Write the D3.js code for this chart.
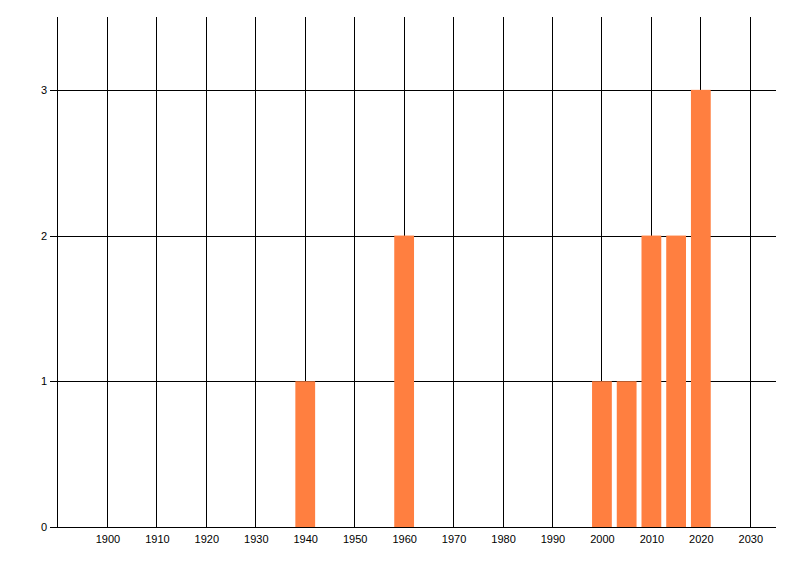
<!doctype html>
<html lang="en">
<head>
<meta charset="utf-8">
<title>Bar chart</title>
<script src="https://d3js.org/d3.v7.min.js"></script>
<style>
    body { margin: 0; background: #fff; }
    .tick text { font-family: "Liberation Sans", Arial, sans-serif; font-size: 11px; fill: #000; }
    .grid line { stroke: #000; stroke-width: 1px; shape-rendering: crispEdges; }
    .bar { fill: #ff7f40; }
</style>
</head>
<body>
<svg width="800" height="576"></svg>
<script>
    // data
    var years  = [1940, 1960, 2000, 2005, 2010, 2015, 2020];
    var counts = [1, 2, 1, 1, 2, 2, 3];
    var xTicks = [1900, 1910, 1920, 1930, 1940, 1950, 1960, 1970, 1980, 1990, 2000, 2010, 2020, 2030];
    var yTicks = [0, 1, 2, 3];
    var barYears = 4;

    var margin = {left: 57, top: 17, right: 24, bottom: 49};
    var svg = d3.select("svg");
    var width  = 800 - margin.left - margin.right;
    var height = 576 - margin.top - margin.bottom;

    var g = svg.append("g")
        .attr("transform", "translate(" + margin.left + "," + margin.top + ")");

    var x = d3.scaleLinear().domain([1889.9, 2035.2]).range([0.5, width]);
    var y = d3.scaleLinear().domain([0, 3.5]).range([height, 0]);

    // vertical grid
    g.append("g")
        .attr("class", "grid")
        .selectAll("line")
        .data(xTicks)
        .enter().append("line")
        .attr("x1", function(d) { return Math.floor(x(d)) + 0.5; })
        .attr("x2", function(d) { return Math.floor(x(d)) + 0.5; })
        .attr("y1", 0)
        .attr("y2", height);

    // horizontal grid
    g.append("g")
        .attr("class", "grid")
        .selectAll("line")
        .data(yTicks)
        .enter().append("line")
        .attr("x1", -7)
        .attr("x2", width)
        .attr("y1", function(d) { return Math.round(y(d)) + 0.5; })
        .attr("y2", function(d) { return Math.round(y(d)) + 0.5; });

    // left axis line
    g.append("g").attr("class", "grid")
        .append("line")
        .attr("x1", 0.5).attr("x2", 0.5)
        .attr("y1", 0).attr("y2", height);

    // bars
    g.selectAll(".bar")
        .data(years)
        .enter().append("rect")
        .attr("class", "bar")
        .attr("x", function(d) { return x(d - barYears / 2); })
        .attr("width", function(d) { return x(d + barYears / 2) - x(d - barYears / 2); })
        .attr("y", function(d, i) { return y(counts[i]); })
        .attr("height", function(d, i) { return height - y(counts[i]); });

    // axis labels
    g.append("g")
        .attr("transform", "translate(0," + height + ")")
        .call(d3.axisBottom(x).tickValues(xTicks).tickFormat(d3.format("d")).tickSize(0).tickPadding(8))
        .call(function(a) { a.select(".domain").remove(); });

    g.append("g")
        .call(d3.axisLeft(y).tickValues(yTicks).tickFormat(d3.format("d")).tickSize(0).tickPadding(10))
        .call(function(a) { a.select(".domain").remove(); });
</script>
</body>
</html>
